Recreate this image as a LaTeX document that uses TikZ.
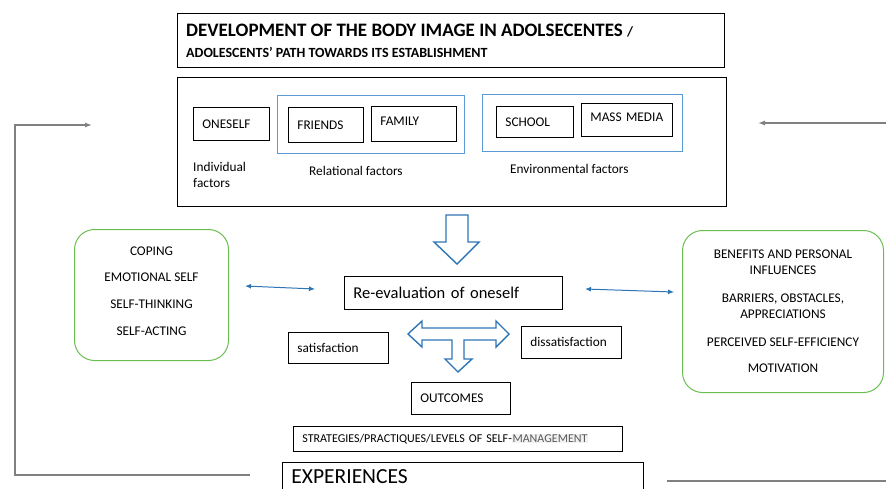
\documentclass[tikz,border=0pt]{standalone}
\usepackage{fontspec}
\setmainfont{Carlito}
\usetikzlibrary{arrows.meta}
\definecolor{boxblue}{RGB}{91,155,213}
\definecolor{arrblue}{RGB}{46,117,182}
\definecolor{boxgreen}{RGB}{106,190,80}
\definecolor{linegray}{RGB}{128,128,128}
\definecolor{hlgray}{RGB}{242,242,242}
\definecolor{textgray}{RGB}{89,89,89}
\newcommand{\boxfont}{\fontsize{13.3}{16}\selectfont}

\begin{document}
\begin{tikzpicture}[x=1pt,y=-1pt,
  box/.style={draw, line width=.8pt, anchor=north west, align=left, inner xsep=9pt, inner ysep=0pt, font=\boxfont},
  bluebox/.style={draw=boxblue, line width=1pt, anchor=north west, inner sep=0pt},
  greenbox/.style={draw=boxgreen, line width=1pt, rounded corners=20pt, anchor=north west, align=center, font=\boxfont},
  plain/.style={anchor=west, inner sep=0pt, font=\boxfont, align=left},
  blockarrow/.style={draw=arrblue, line width=1.4pt, line join=miter},
  bluearrow/.style={arrblue, line width=1pt, {Latex[length=6pt,width=5pt]}-{Latex[length=6pt,width=5pt]}},
  grayline/.style={linegray, line width=1.3pt},
]
  \useasboundingbox (0,0) rectangle (886,488);
  \clip (0,0) rectangle (886,488);

  % title
  \node[draw, line width=.8pt, anchor=north west, minimum width=547, minimum height=54] (titlebox) at (177,13) {};
  \node[plain, font=\fontsize{19}{21}\selectfont\bfseries] (title1) at (186,31) {DEVELOPMENT OF THE BODY IMAGE IN ADOLSECENTES {\fontsize{14}{16}\selectfont /}};
  \node[plain, font=\fontsize{14}{16}\selectfont\bfseries] (title2) at (186,52) {ADOLESCENTS’ PATH TOWARDS ITS ESTABLISHMENT};

  % factors
  \node[draw, line width=.8pt, anchor=north west, minimum width=549, minimum height=129] (factors) at (177,77) {};
  \node[bluebox, minimum width=187, minimum height=58] (relational) at (277,95) {};
  \node[bluebox, minimum width=200, minimum height=57] (environmental) at (482,94) {};
  \node[box, text width=58, minimum height=33] (oneself) at (193,107) {ONESELF};
  \node[box, text width=57, minimum height=35] (friends) at (288,107) {FRIENDS};
  \node[box, text width=67, minimum height=35] (family) at (371,106) {FAMILY\\[-10pt]\mbox{}};
  \node[box, text width=59, minimum height=31] (school) at (496,106) {SCHOOL};
  \node[box, text width=73, minimum height=33] (massmedia) at (581,103) {MASS MEDIA\\[-10pt]\mbox{}};
  \node[plain] (individual) at (193,175) {Individual\\factors};
  \node[plain] (relationallabel) at (309,171) {Relational factors};
  \node[plain] (environmentallabel) at (510,169) {Environmental factors};

  % centre
  \node[box, text width=200, minimum height=33, font=\fontsize{16.5}{18}\selectfont] (reeval) at (344,276) {Re-evaluation of oneself};
  \node[box, text width=82, minimum height=31] (satisfaction) at (288,332) {satisfaction};
  \node[box, text width=82, minimum height=32] (dissatisfaction) at (521,326) {dissatisfaction};
  \node[box, text width=81, minimum height=32] (outcomes) at (411,382) {OUTCOMES};
  \node[box, text width=311, minimum height=25, font=\fontsize{12}{14}\selectfont] (strategies) at (293,426)
    {STRATEGIES/PRACTIQUES/LEVELS OF SELF-{\fboxsep=.5pt\colorbox{hlgray}{\textcolor{textgray}{MANAGEMENT}}}};
  \node[box, text width=343, minimum height=28, font=\fontsize{21.5}{23}\selectfont] (experiences) at (282,462) {EXPERIENCES};

  % side boxes
  \node[greenbox, minimum width=154, minimum height=131] (selfbox) at (74,229)
    {COPING\\[10.7pt]EMOTIONAL SELF\\[10.7pt]SELF-THINKING\\[10.7pt]SELF-ACTING\\[-8pt]\mbox{}};
  \node[greenbox, minimum width=201, minimum height=162] (influencebox) at (682,230)
    {BENEFITS AND PERSONAL\\INFLUENCES\\[12pt]BARRIERS, OBSTACLES,\\APPRECIATIONS\\[12pt]PERCEIVED SELF-EFFICIENCY\\[10pt]MOTIVATION};

  % block arrows
  \draw[blockarrow] (446,215) -- (468,215) -- (468,242) -- (479,242) -- (457,264) -- (434,242) -- (446,242) -- cycle;
  \draw[blockarrow] (408,334) -- (422,321) -- (422,328) -- (496,328) -- (496,321) -- (509,334) -- (496,347) -- (496,340)
    -- (464,340) -- (464,359) -- (472,359) -- (458,372) -- (445,359) -- (452,359) -- (452,340) -- (422,340) -- (422,347) -- cycle;

  % links
  \coordinate (la) at (245,286);
  \coordinate (lb) at (315,289);
  \coordinate (ra) at (585,289);
  \coordinate (rb) at (674,292);
  \draw[bluearrow] (la) -- (lb);
  \draw[bluearrow] (ra) -- (rb);

  % feedback
  \coordinate (fb1) at (250,475);
  \coordinate (fb2) at (15,475);
  \coordinate (fb3) at (15,125);
  \coordinate (fb4) at (92,125);
  \draw[grayline, -{Latex[length=7pt,width=5pt]}] (fb1) -- (fb2) -- (fb3) -- (fb4);
  \coordinate (fr1) at (886,123);
  \coordinate (fr2) at (758,123);
  \draw[grayline, -{Latex[length=7pt,width=5pt]}] (fr1) -- (fr2);
  \coordinate (fr3) at (667,481);
  \coordinate (fr4) at (886,481);
  \draw[grayline] (fr3) -- (fr4);
\end{tikzpicture}
\end{document}
